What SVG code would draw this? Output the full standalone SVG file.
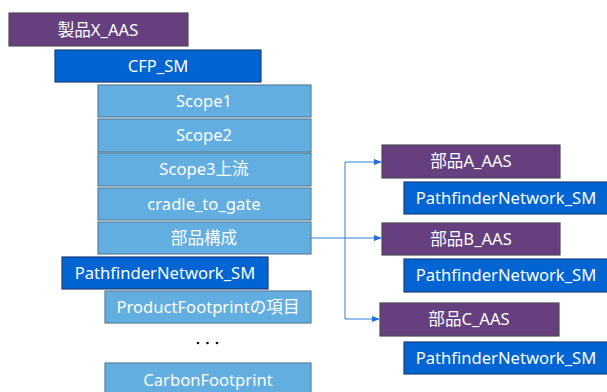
<svg xmlns="http://www.w3.org/2000/svg" width="607" height="392" viewBox="0 0 607 392">
  <style>
    .aas rect { fill: #663f7e; stroke: #4f4a55; stroke-width: 1.2; }
    .sm rect { fill: #0064d2; stroke: #1d3f7a; stroke-width: 1.2; }
    .el rect { fill: #63aee0; stroke: #5a7f99; stroke-width: 1.2; }
    text { font-family: "Noto Sans", "Noto Sans CJK JP", sans-serif; font-size: 16.6px; fill: #ffffff; text-anchor: middle; }
    .conn { fill: none; stroke: #2f7fdc; stroke-width: 1; }
  </style>
  <defs>
    <marker id="arrow" viewBox="0 0 10 10" refX="9" refY="5" markerWidth="8" markerHeight="8" markerUnits="userSpaceOnUse" orient="auto">
      <path d="M0,1 L10,5 L0,9 z" fill="#1f6fd6"/>
    </marker>
  </defs>

  <g id="product-x-aas" class="aas"><rect x="9" y="13" width="179" height="33"/><text x="98" y="35.5">製品X_AAS</text></g>
  <g id="cfp-sm" class="sm"><rect x="55" y="50" width="206" height="32"/><text x="158" y="72">CFP_SM</text></g>
  <g id="scope1" class="el"><rect x="98" y="85" width="213" height="32"/><text x="204" y="107">Scope1</text></g>
  <g id="scope2" class="el"><rect x="98" y="119" width="213" height="33"/><text x="204" y="141">Scope2</text></g>
  <g id="scope3" class="el"><rect x="98" y="153" width="213" height="33"/><text x="204" y="175">Scope3上流</text></g>
  <g id="cradle-to-gate" class="el"><rect x="98" y="188" width="213" height="32"/><text x="204" y="210">cradle_to_gate</text></g>
  <g id="parts" class="el"><rect x="98" y="222" width="213" height="32"/><text x="204" y="244">部品構成</text></g>
  <g id="pathfinder-sm" class="sm"><rect x="62" y="257" width="206" height="32"/><text x="165" y="279">PathfinderNetwork_SM</text></g>
  <g id="pf-items" class="el"><rect x="105" y="291" width="206" height="32"/><text x="208" y="313">ProductFootprintの項目</text></g>
  <g id="ellipsis">
    <circle cx="198" cy="343" r="1.3" fill="#111"/>
    <circle cx="207.5" cy="343" r="1.3" fill="#111"/>
    <circle cx="217" cy="343" r="1.3" fill="#111"/>
  </g>
  <g id="carbon-footprint" class="el"><rect x="105" y="363" width="206" height="34"/><text x="208" y="386">CarbonFootprint</text></g>

  <g id="part-a-aas" class="aas"><rect x="382" y="145" width="178" height="33"/><text x="471" y="167">部品A_AAS</text></g>
  <g id="part-a-sm" class="sm"><rect x="404" y="182" width="206" height="32"/><text x="506" y="204">PathfinderNetwork_SM</text></g>
  <g id="part-b-aas" class="aas"><rect x="382" y="223" width="178" height="32"/><text x="471" y="245">部品B_AAS</text></g>
  <g id="part-b-sm" class="sm"><rect x="404" y="259" width="206" height="33"/><text x="506" y="281">PathfinderNetwork_SM</text></g>
  <g id="part-c-aas" class="aas"><rect x="380" y="303" width="179" height="33"/><text x="469" y="325">部品C_AAS</text></g>
  <g id="part-c-sm" class="sm"><rect x="404" y="342" width="206" height="32"/><text x="506" y="364">PathfinderNetwork_SM</text></g>

  <g id="connectors">
    <path class="conn" d="M311,238 H345" />
    <path class="conn" d="M345,238 V162 H381" marker-end="url(#arrow)"/>
    <path class="conn" d="M345,238 H381" marker-end="url(#arrow)"/>
    <path class="conn" d="M345,238 V319 H379" marker-end="url(#arrow)"/>
  </g>
</svg>
